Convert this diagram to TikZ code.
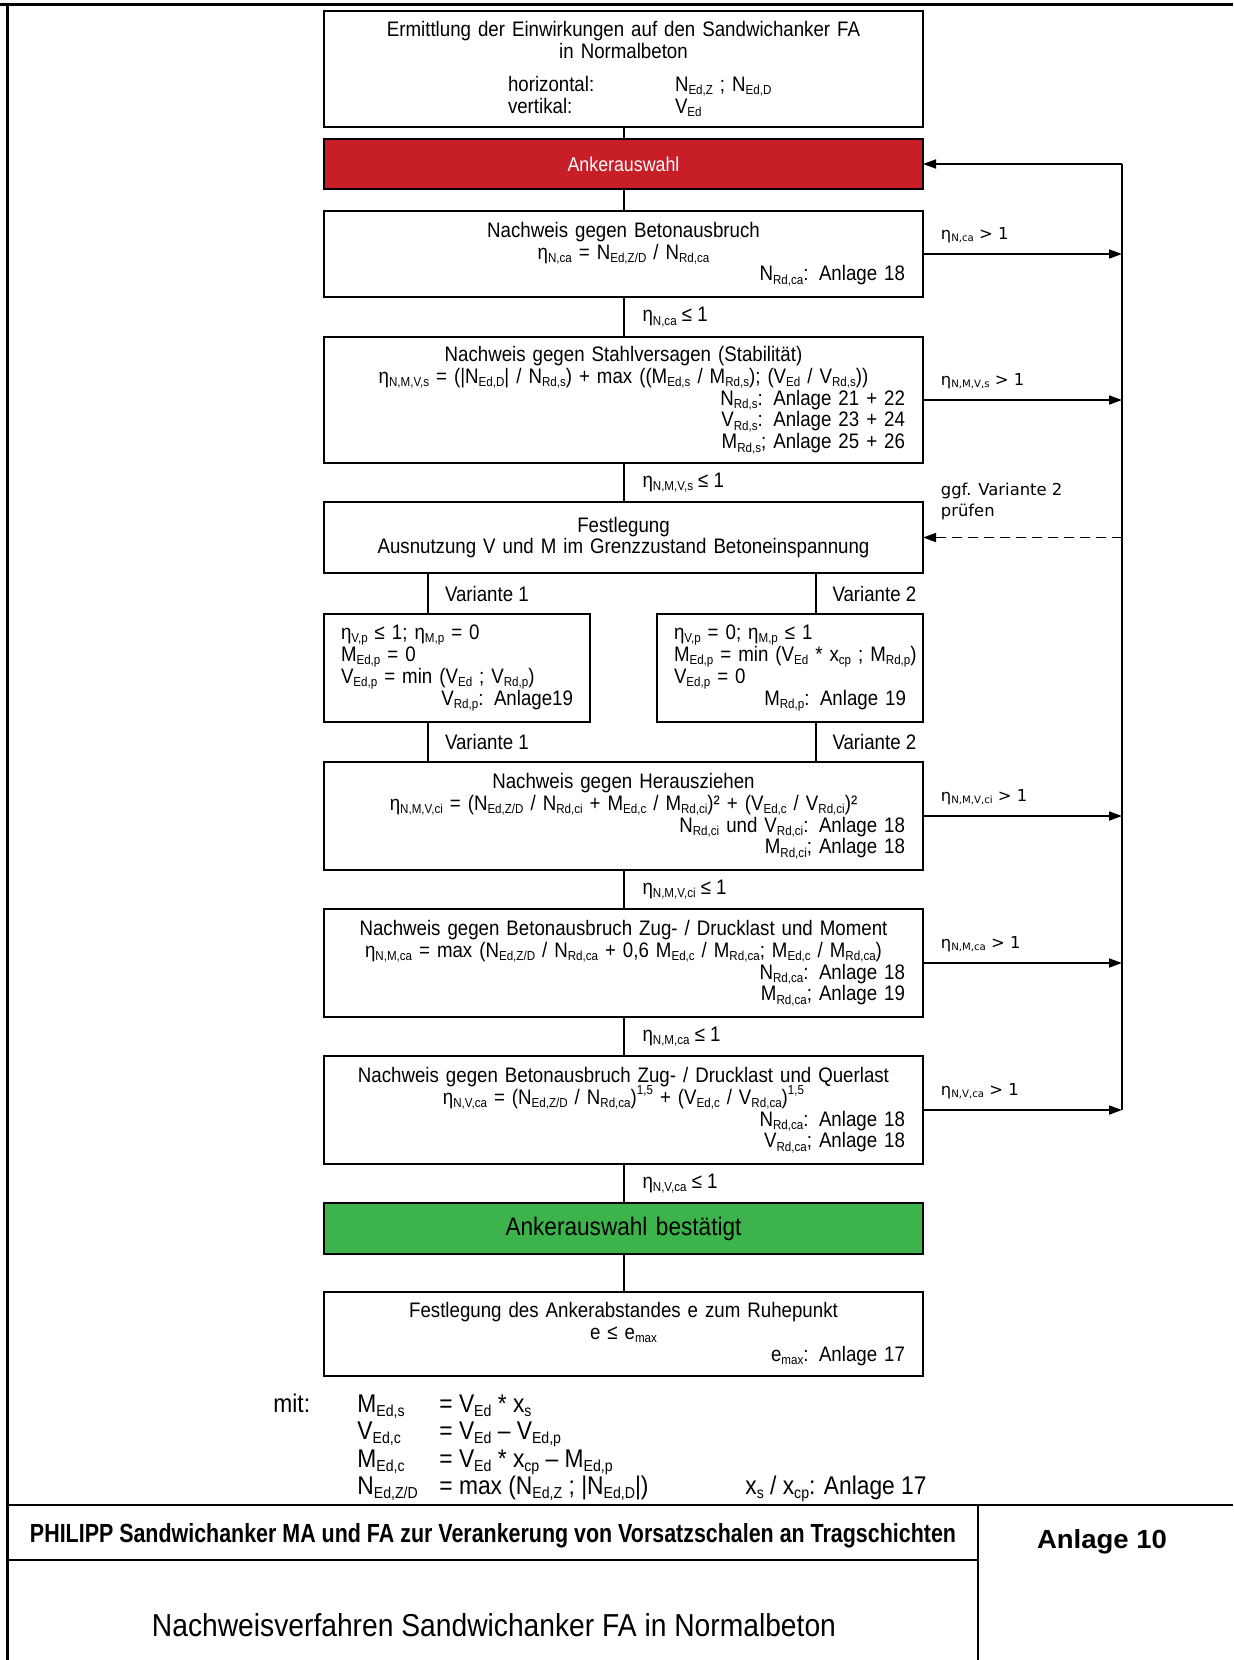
\documentclass[tikz,border=0pt]{standalone}
\usepackage{graphicx}
\usepackage{fontspec}
\setmainfont{Liberation Sans}[FakeStretch=0.89]
\newfontfamily\lblfont{DejaVu Sans}
\usetikzlibrary{arrows.meta, positioning, calc}
\definecolor{color_wahl}{RGB}{200,30,40}
\definecolor{color_ok}{RGB}{60,180,75}
\newcommand{\idx}[1]{\raisebox{-0.3ex}{\scalebox{0.62}{#1}}}
\newcommand{\hoch}[1]{\raisebox{0.85ex}{\scalebox{0.62}{#1}}}
\newcommand{\rzeile}[1]{\makebox[281.5pt][r]{#1}}
\newcommand{\vzeile}[1]{\makebox[116pt][r]{#1}}
\newcommand{\boxfont}{\fontsize{10.5}{10.9}\selectfont\lineskiplimit=-10pt}

\begin{document}
\begin{tikzpicture}[x=0.5pt, y=-0.5pt,
  box/.style={draw, line width=1.1pt, outer sep=0pt, text width=281.5pt, inner xsep=9pt, inner ysep=0pt, align=center, font=\boxfont},
  vbox/.style={box, text width=116pt, inner xsep=8.5pt, align=left, minimum height=54pt},
  conn/.style={line width=1pt},
  arr/.style={line width=0.9pt, -{Triangle[length=6.5pt,width=4.5pt]}},
  lbl/.style={inner sep=0pt, font=\boxfont},
  rlbl/.style={inner sep=0pt, anchor=base west, font=\lblfont\fontsize{8.2}{10.5}\selectfont},
  mitrow/.style={anchor=base west, inner sep=0pt, font=\fontsize{12.8}{13.75}\selectfont},
  frame/.style={line width=1.4pt}]

  \useasboundingbox (0,0) rectangle (1233,1660);

  % RAHMEN
  \draw[frame] (0,4.5) -- (1233,4.5);
  \draw[frame] (7.5,4.5) -- (7.5,1660);
  \draw[frame] (7.5,1505) -- (1233,1505);
  \draw[frame] (978,1505) -- (978,1660);
  \draw[frame] (7.5,1560) -- (978,1560);

  % EINWIRKUNGEN
  \node[box, minimum height=58pt] (ermit) at (623.5,69) {Ermittlung der Einwirkungen auf den Sandwichanker FA\\
    in Normalbeton\\[5.5pt]
    \makebox[281.5pt][l]{\hspace{83pt}\makebox[83.5pt][l]{horizontal:}N\idx{Ed,Z} ; N\idx{Ed,D}}\\
    \makebox[281.5pt][l]{\hspace{83pt}\makebox[83.5pt][l]{vertikal:}V\idx{Ed}}};
  \node[box, below=6pt of ermit, minimum height=25pt, fill=color_wahl, text=white, font=\fontsize{10}{11}\selectfont] (wahl) {Ankerauswahl};

  % NACHWEISE
  \node[box, below=11pt of wahl, minimum height=43pt] (beton) {Nachweis gegen Betonausbruch\\
    η\idx{N,ca} = N\idx{Ed,Z/D} / N\idx{Rd,ca}\\
    \rzeile{N\idx{Rd,ca}: Anlage 18}};
  \node[box, below=20pt of beton, minimum height=63pt] (stahl) {Nachweis gegen Stahlversagen (Stabilität)\\
    η\idx{N,M,V,s} = (|N\idx{Ed,D}| / N\idx{Rd,s}) + max ((M\idx{Ed,s} / M\idx{Rd,s}); (V\idx{Ed} / V\idx{Rd,s}))\\
    \rzeile{N\idx{Rd,s}: Anlage 21 + 22}\\
    \rzeile{V\idx{Rd,s}: Anlage 23 + 24}\\
    \rzeile{M\idx{Rd,s}; Anlage 25 + 26}};
  \node[box, below=19.5pt of stahl, minimum height=35.5pt] (fest) {Festlegung\\
    Ausnutzung V und M im Grenzzustand Betoneinspannung};

  % VARIANTEN
  \node[vbox, below right=20.5pt and 0pt of fest.south west] (var1) {\mbox{η\idx{V,p} ≤ 1; η\idx{M,p} = 0}\\
    \mbox{M\idx{Ed,p} = 0}\\
    \mbox{V\idx{Ed,p} = min (V\idx{Ed} ; V\idx{Rd,p})}\\
    \vzeile{V\idx{Rd,p}: Anlage19}};
  \node[vbox, below left=20.5pt and 0pt of fest.south east] (var2) {\mbox{η\idx{V,p} = 0; η\idx{M,p} ≤ 1}\\
    \mbox{M\idx{Ed,p} = min (V\idx{Ed} * x\idx{cp} ; M\idx{Rd,p})}\\
    \mbox{V\idx{Ed,p} = 0}\\
    \vzeile{M\idx{Rd,p}: Anlage 19}};

  \node[box, below right=20pt and 0pt of var1.south west, minimum height=54pt] (herz) {Nachweis gegen Herausziehen\\
    η\idx{N,M,V,ci} = (N\idx{Ed,Z/D} / N\idx{Rd,ci} + M\idx{Ed,c} / M\idx{Rd,ci})² + (V\idx{Ed,c} / V\idx{Rd,ci})²\\
    \rzeile{N\idx{Rd,ci} und V\idx{Rd,ci}: Anlage 18}\\
    \rzeile{M\idx{Rd,ci}; Anlage 18}};
  \node[box, below=19.5pt of herz, minimum height=54pt] (mom) {Nachweis gegen Betonausbruch Zug- / Drucklast und Moment\\
    η\idx{N,M,ca} = max (N\idx{Ed,Z/D} / N\idx{Rd,ca} + 0,6 M\idx{Ed,c} / M\idx{Rd,ca}; M\idx{Ed,c} / M\idx{Rd,ca})\\
    \rzeile{N\idx{Rd,ca}: Anlage 18}\\
    \rzeile{M\idx{Rd,ca}; Anlage 19}};
  \node[box, below=19.5pt of mom, minimum height=54pt] (quer) {Nachweis gegen Betonausbruch Zug- / Drucklast und Querlast\\
    η\idx{N,V,ca} = (N\idx{Ed,Z/D} / N\idx{Rd,ca})\hoch{1,5} + (V\idx{Ed,c} / V\idx{Rd,ca})\hoch{1,5}\\
    \rzeile{N\idx{Rd,ca}: Anlage 18}\\
    \rzeile{V\idx{Rd,ca}; Anlage 18}};
  \node[box, below=19.5pt of quer, minimum height=25.5pt, fill=color_ok, font=\fontsize{12.7}{13}\selectfont] (ok) {Ankerauswahl bestätigt};
  \node[box, below=19pt of ok, minimum height=42pt] (abst) {Festlegung des Ankerabstandes e zum Ruhepunkt\\
    e ≤ e\idx{max}\\
    \rzeile{e\idx{max}: Anlage 17}};

  % VERBINDUNGEN
  \draw[conn] (ermit) -- (wahl);
  \draw[conn] (wahl) -- (beton);
  \draw[conn] (beton) -- node[lbl, right=9pt] {η\idx{N,ca} ≤ 1} (stahl);
  \draw[conn] (stahl) -- node[lbl, right=9pt] {η\idx{N,M,V,s} ≤ 1} (fest);
  \coordinate (v1) at ([xshift=-14.5pt]var1.north);
  \coordinate (v2) at ([xshift=12.75pt]var2.north);
  \draw[conn] (v1 |- fest.south) -- node[lbl, right=8pt] {Variante 1} (v1);
  \draw[conn] (v2 |- fest.south) -- node[lbl, right=8pt] {Variante 2} (v2);
  \draw[conn] (v1 |- var1.south) -- node[lbl, right=8pt] {Variante 1} (v1 |- herz.north);
  \draw[conn] (v2 |- var2.south) -- node[lbl, right=8pt] {Variante 2} (v2 |- herz.north);
  \draw[conn] (herz) -- node[lbl, right=9pt] {η\idx{N,M,V,ci} ≤ 1} (mom);
  \draw[conn] (mom) -- node[lbl, right=9pt] {η\idx{N,M,ca} ≤ 1} (quer);
  \draw[conn] (quer) -- node[lbl, right=9pt] {η\idx{N,V,ca} ≤ 1} (ok);
  \draw[conn] (ok) -- (abst);

  % RUECKFUEHRUNG
  \coordinate (rail) at (1122,0);
  \draw[line width=1.3pt] (rail |- wahl.east) -- (rail |- quer.east);
  \draw[arr] (rail |- wahl.east) -- (wahl.east);
  \draw[arr] (beton.east) -- node[rlbl, pos=0, xshift=8.5pt, yshift=7.5pt] {η\idx{N,ca} > 1} (rail |- beton.east);
  \draw[arr] (stahl.east) -- node[rlbl, pos=0, xshift=8.5pt, yshift=7.5pt] {η\idx{N,M,V,s} > 1} (rail |- stahl.east);
  \draw[arr] (herz.east) -- node[rlbl, pos=0, xshift=8.5pt, yshift=7.5pt] {η\idx{N,M,V,ci} > 1} (rail |- herz.east);
  \draw[arr] (mom.east) -- node[rlbl, pos=0, xshift=8.5pt, yshift=7.5pt] {η\idx{N,M,ca} > 1} (rail |- mom.east);
  \draw[arr] (quer.east) -- node[rlbl, pos=0, xshift=8.5pt, yshift=7.5pt] {η\idx{N,V,ca} > 1} (rail |- quer.east);
  \draw[arr, dash pattern=on 5pt off 3pt] (rail |- fest.east) -- node[rlbl, pos=1, anchor=south west, align=left, xshift=8.5pt, yshift=8.5pt] {ggf. Variante 2\\prüfen} (fest.east);

  % MIT
  \node[mitrow] (mit) at (273,1412) {mit:};
  \node[mitrow] (r1) at ([xshift=42pt]mit.base west) {\makebox[41pt][l]{M\idx{Ed,s}}= V\idx{Ed} * x\idx{s}};
  \node[mitrow] (r2) at ([yshift=-13.75pt]r1.base west) {\makebox[41pt][l]{V\idx{Ed,c}}= V\idx{Ed} – V\idx{Ed,p}};
  \node[mitrow] (r3) at ([yshift=-13.75pt]r2.base west) {\makebox[41pt][l]{M\idx{Ed,c}}= V\idx{Ed} * x\idx{cp} – M\idx{Ed,p}};
  \node[mitrow] (r4) at ([yshift=-13.75pt]r3.base west) {\makebox[41pt][l]{N\idx{Ed,Z/D}}= max (N\idx{Ed,Z} ; |N\idx{Ed,D}|)};
  \node[mitrow] (xs) at (745,1494) {x\idx{s} / x\idx{cp}: Anlage 17};

  % SCHRIFTFELD
  \node[anchor=base, inner sep=0pt] (titel) at (493,1542) {\resizebox{463pt}{9.5pt}{\bfseries PHILIPP Sandwichanker MA und FA zur Verankerung von Vorsatzschalen an Tragschichten}};
  \node[anchor=base, inner sep=0pt] (anlage) at (1102,1548) {\resizebox{65pt}{9.5pt}{\bfseries Anlage 10}};
  \node[anchor=base, inner sep=0pt] (name) at (494,1636) {\resizebox{342pt}{11.5pt}{Nachweisverfahren Sandwichanker FA in Normalbeton}};
\end{tikzpicture}
\end{document}
